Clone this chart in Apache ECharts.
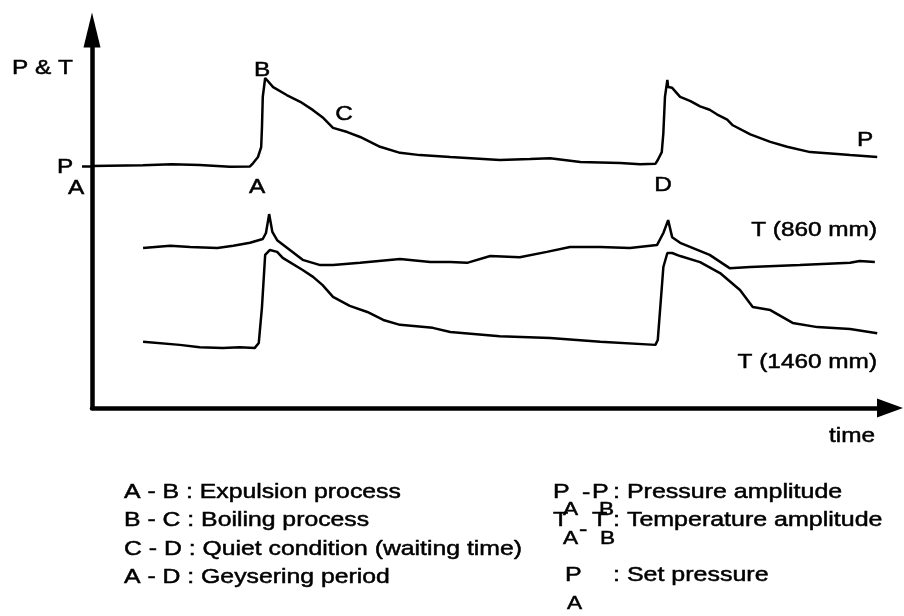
<!DOCTYPE html>
<html>
<head>
<meta charset="utf-8">
<script src="https://cdn.jsdelivr.net/npm/echarts@6/dist/echarts.min.js"></script>
<style>
  html, body { margin: 0; padding: 0; background: #fff; }
  #chart { width: 904px; height: 616px; }
</style>
</head>
<body>
<div id="chart"></div>
<script>
// schematic geysering cycle, arbitrary units (time 0-100, P & T 0-100)
const setPressure = 64

const pressure = [
  [0, 64.0], [6.4, 64.2], [10, 64.5], [13.5, 64.3], [17.3, 63.8], [19.8, 63.9],
  [20.2, 64.8], [20.8, 66.4], [21.2, 69.0], [21.3, 74.3], [21.4, 82.3], [21.7, 87.3],
  [22.7, 84.9], [24.4, 82.8], [26.1, 81.0], [27.7, 78.8], [29.0, 76.7], [30.2, 74.1],
  [32.0, 73.0], [33.6, 71.7], [36.1, 69.1], [38.6, 67.5], [41.1, 66.9], [44.9, 66.4],
  [48.0, 66.0], [51.1, 65.6], [54.9, 65.9], [57.4, 66.1], [61.2, 65.1], [66.2, 64.8],
  [68.7, 64.5], [70.6, 64.6], [70.9, 65.6], [71.4, 67.7], [71.6, 72.8], [71.8, 82.3],
  [72.1, 86.8], [72.2, 84.9], [72.7, 84.7], [73.7, 82.3], [75.0, 81.2], [76.2, 79.8],
  [77.4, 78.9], [78.3, 77.7], [79.6, 76.3], [80.3, 74.8], [82.5, 72.4], [85.0, 70.4],
  [87.1, 69.1], [90.0, 67.7], [93.4, 67.2], [95.0, 66.9], [98.4, 66.4]
]

const temp860 = [
  [6.4, 42.3], [9.8, 42.9], [12.3, 42.6], [15.7, 42.3], [17.7, 42.9], [19.8, 43.7],
  [21.4, 44.7], [21.8, 46.3], [22.2, 51.3], [22.6, 46.6], [23.2, 44.4], [24.8, 41.8],
  [26.4, 39.2], [28.6, 37.8], [30.2, 37.8], [33.6, 38.4], [38.6, 39.4], [42.4, 38.6],
  [44.9, 38.6], [47.0, 38.4], [49.9, 40.2], [53.6, 39.9], [57.0, 41.3], [59.9, 42.6],
  [63.7, 42.6], [67.4, 42.3], [70.8, 43.1], [71.6, 46.3], [72.2, 49.7], [72.7, 45.2],
  [73.7, 43.7], [77.4, 40.5], [79.9, 37.0], [82.5, 37.3], [88.7, 37.8], [95.0, 38.4],
  [96.2, 38.9], [98.1, 38.6]
]

const temp1460 = [
  [6.4, 17.5], [11.0, 16.7], [13.5, 16.1], [16.4, 15.9], [18.5, 16.1], [20.4, 15.9],
  [20.9, 17.2], [21.3, 26.7], [21.7, 40.5], [22.3, 41.8], [23.2, 41.3], [23.9, 39.7],
  [26.4, 36.5], [27.7, 34.7], [28.9, 32.5], [30.2, 29.4], [32.3, 27.0], [34.5, 25.4],
  [36.5, 23.3], [38.6, 22.0], [42.7, 21.2], [44.9, 20.1], [51.1, 19.0], [57.4, 18.5],
  [63.7, 17.5], [70.6, 16.7], [70.9, 18.0], [71.6, 37.3], [72.1, 41.0], [72.7, 41.0],
  [73.7, 40.2], [76.2, 38.6], [78.7, 35.7], [81.2, 31.2], [82.8, 26.7], [85.0, 25.9],
  [87.8, 22.5], [90.9, 21.4], [95.0, 20.9], [98.4, 19.8]
]

// annotation text: [text, x, y, align]
const curveLabels = [
  ['P & T', 12, 68, 'left'],
  ['B', 262, 70, 'center'],
  ['C', 344, 114, 'center'],
  ['A', 257, 187, 'center'],
  ['D', 663, 185, 'center'],
  ['P', 865, 140, 'center'],
  ['P', 65, 167, 'center'],
  ['A', 76, 188, 'center'],
  ['T (860 mm)', 877, 230, 'right'],
  ['T (1460 mm)', 877, 362, 'right'],
  ['time', 852, 436, 'center']
]

const processLines = [
  'A - B : Expulsion process',
  'B - C : Boiling process',
  'C - D : Quiet condition (waiting time)',
  'A - D : Geysering period'
]

// right-hand key, pieces so the subscripts sit low: [text, x, y, isSub]
const keyPieces = [
  ['P', 553, 492.5], ['A', 563, 510, 1], ['-', 582, 493], ['P', 592, 492.5], ['B', 599, 510, 1],
  [': Pressure amplitude', 613, 492.5],
  ['T', 553, 520.5], ['A', 563, 538.5, 1], ['-', 579, 530], ['T', 592, 520.5], ['B', 600, 538.5, 1],
  [': Temperature amplitude', 613, 520.5],
  ['P', 565, 575.5], ['A', 567, 603.5, 1], [': Set pressure', 613, 575.5]
]

const FONT = '21px "Liberation Sans", Arial, sans-serif'
const SUB_FONT = '19px "Liberation Sans", Arial, sans-serif'

const textEl = (text, x, y, align, stretch, font) => ({
  type: 'text', x: x, y: y, scaleX: stretch, silent: true,
  style: {
    text: text, font: font || FONT, fill: '#000', stroke: '#000', lineWidth: 0.5,
    textAlign: align, textVerticalAlign: 'middle'
  }
})

const graphic = []
curveLabels.forEach(([text, x, y, align]) => {
  graphic.push(textEl(text, x, y, align, 1.16))
})
processLines.forEach((text, i) => {
  graphic.push(textEl(text, 124, [492.5, 520.5, 549, 577.5][i], 'left', 1.18))
})
keyPieces.forEach(([text, x, y, sub]) => {
  graphic.push(textEl(text, x, y, 'left', 1.19, sub ? SUB_FONT : FONT))
})

const chart = echarts.init(document.getElementById('chart'))

const lineSeries = (name, data) => ({
  name: name,
  type: 'line',
  data: data,
  showSymbol: false,
  smooth: false,
  lineStyle: { color: '#000', width: 2.5 },
  z: 3
})

chart.setOption({
  animation: false,
  backgroundColor: '#fff',
  grid: { left: 92, right: 14, top: 30, bottom: 208 },
  xAxis: {
    type: 'value',
    min: 0,
    max: 100,
    splitLine: { show: false },
    axisTick: { show: false },
    axisLabel: { show: false },
    axisLine: {
      symbol: ['none', 'triangle'],
      symbolSize: [19, 26],
      lineStyle: { color: '#000', width: 4.5 }
    }
  },
  yAxis: {
    type: 'value',
    min: 0,
    max: 100,
    splitLine: { show: false },
    axisLabel: { show: false },
    axisTick: {
      show: true,
      customValues: [setPressure],
      length: 10,
      lineStyle: { color: '#000', width: 2.5 }
    },
    axisLine: {
      show: true,
      symbol: ['none', 'triangle'],
      symbolSize: [17, 35],
      lineStyle: { color: '#000', width: 4.5 }
    }
  },
  series: [
    lineSeries('P', pressure),
    lineSeries('T (860 mm)', temp860),
    lineSeries('T (1460 mm)', temp1460)
  ],
  graphic: graphic
})
</script>
</body>
</html>
